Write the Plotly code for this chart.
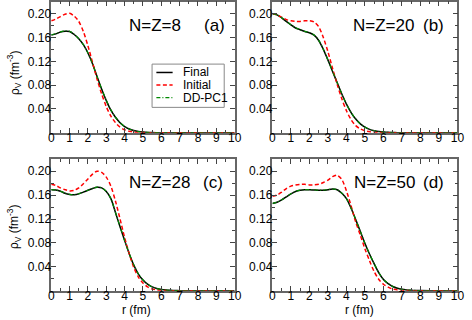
import plotly.graph_objects as go

# radial grid (fm)
R = [0.0, 0.25, 0.5, 0.75, 1.0, 1.25, 1.5, 1.75, 2.0, 2.25, 2.5, 2.75, 3.0, 3.25, 3.5, 3.75,
     4.0, 4.25, 4.5, 4.75, 5.0, 5.25, 5.5, 5.75, 6.0, 6.25, 6.5, 6.75, 7.0, 7.25, 7.5, 7.75,
     8.0, 9.0, 10.0]

# N=Z=8
A_FINAL = [0.164, 0.166, 0.169, 0.1705, 0.170, 0.165, 0.158, 0.148, 0.134, 0.116, 0.094, 0.073,
           0.054, 0.038, 0.026, 0.017, 0.0105, 0.0063, 0.0037, 0.0021, 0.0012, 0.0006, 0.0003,
           0.00015, 0.0001, 0, 0, 0, 0, 0, 0, 0, 0, 0, 0]
A_INIT = [0.188, 0.191, 0.195, 0.199, 0.2005, 0.196, 0.187, 0.170, 0.146, 0.118, 0.090, 0.065,
          0.044, 0.028, 0.017, 0.0095, 0.005, 0.0025, 0.0012, 0.0006, 0.0003, 0.0001, 0, 0, 0,
          0, 0, 0, 0, 0, 0, 0, 0, 0, 0]
A_DDPC1 = [0.1645, 0.1665, 0.1695, 0.171, 0.1705, 0.1655, 0.158, 0.148, 0.134, 0.116, 0.094,
           0.0735, 0.0545, 0.0385, 0.0262, 0.0172, 0.0106, 0.0064, 0.0038, 0.0021, 0.0012,
           0.0006, 0.0003, 0.00015, 0.0001, 0, 0, 0, 0, 0, 0, 0, 0, 0, 0]

# N=Z=20
B_FINAL = [0.200, 0.198, 0.193, 0.187, 0.181, 0.176, 0.173, 0.170, 0.168, 0.164, 0.155, 0.140,
           0.122, 0.103, 0.084, 0.065, 0.048, 0.034, 0.023, 0.015, 0.0095, 0.0058, 0.0035,
           0.002, 0.0012, 0.0007, 0.0004, 0.0002, 0.0001, 0, 0, 0, 0, 0, 0]
B_INIT = [0.200, 0.198, 0.194, 0.190, 0.188, 0.187, 0.187, 0.188, 0.188, 0.186, 0.178, 0.160,
          0.136, 0.108, 0.081, 0.057, 0.037, 0.022, 0.012, 0.0065, 0.0034, 0.0017, 0.0008,
          0.0004, 0.0002, 0, 0, 0, 0, 0, 0, 0, 0, 0, 0]
B_DDPC1 = [0.200, 0.198, 0.1932, 0.1872, 0.1812, 0.1762, 0.1732, 0.1702, 0.1682, 0.1642, 0.1552,
           0.1402, 0.1222, 0.1032, 0.0842, 0.0652, 0.0482, 0.0342, 0.0232, 0.0152, 0.0096,
           0.0058, 0.0035, 0.002, 0.0012, 0.0007, 0.0004, 0.0002, 0.0001, 0, 0, 0, 0, 0, 0]

# N=Z=28
C_FINAL = [0.169, 0.1685, 0.1665, 0.163, 0.161, 0.1605, 0.162, 0.165, 0.168, 0.171, 0.173,
           0.172, 0.166, 0.154, 0.131, 0.107, 0.084, 0.062, 0.043, 0.028, 0.018, 0.011, 0.0065,
           0.0038, 0.0022, 0.0012, 0.0007, 0.0004, 0.0002, 0, 0, 0, 0, 0, 0]
C_INIT = [0.178, 0.176, 0.172, 0.169, 0.167, 0.168, 0.172, 0.179, 0.187, 0.195, 0.200, 0.198,
          0.190, 0.175, 0.150, 0.120, 0.089, 0.062, 0.039, 0.023, 0.013, 0.0065, 0.003, 0.0015,
          0.0007, 0.0003, 0.0001, 0, 0, 0, 0, 0, 0, 0, 0]
C_DDPC1 = [0.1692, 0.1687, 0.1667, 0.1632, 0.1612, 0.1607, 0.1622, 0.1652, 0.1682, 0.1712,
           0.1732, 0.1722, 0.1662, 0.1542, 0.1312, 0.1072, 0.0842, 0.0622, 0.0432, 0.0282,
           0.0181, 0.0111, 0.0066, 0.0038, 0.0022, 0.0012, 0.0007, 0.0004, 0.0002, 0, 0, 0, 0,
           0, 0]

# N=Z=50
D_FINAL = [0.146, 0.148, 0.152, 0.157, 0.162, 0.166, 0.168, 0.169, 0.169, 0.1685, 0.168, 0.168,
           0.169, 0.170, 0.169, 0.163, 0.154, 0.138, 0.119, 0.099, 0.079, 0.061, 0.045, 0.030,
           0.019, 0.012, 0.0072, 0.0043, 0.0025, 0.0015, 0.0009, 0.0005, 0.0003, 0, 0]
D_INIT = [0.158, 0.160, 0.165, 0.171, 0.175, 0.177, 0.178, 0.178, 0.177, 0.177, 0.178, 0.181,
          0.185, 0.191, 0.193, 0.186, 0.167, 0.142, 0.115, 0.093, 0.070, 0.050, 0.032, 0.019,
          0.011, 0.006, 0.003, 0.0015, 0.0007, 0.0003, 0.0001, 0, 0, 0, 0]
D_DDPC1 = [0.1462, 0.1482, 0.1522, 0.1572, 0.1622, 0.1662, 0.1682, 0.1692, 0.1692, 0.1687,
           0.1682, 0.1682, 0.1692, 0.1702, 0.1692, 0.1632, 0.1542, 0.1382, 0.1192, 0.0992,
           0.0792, 0.0612, 0.0452, 0.0302, 0.0191, 0.0121, 0.0073, 0.0043, 0.0025, 0.0015,
           0.0009, 0.0005, 0.0003, 0, 0]

PANELS = [
    ("N=Z=8", "(a)", A_FINAL, A_INIT, A_DDPC1),
    ("N=Z=20", "(b)", B_FINAL, B_INIT, B_DDPC1),
    ("N=Z=28", "(c)", C_FINAL, C_INIT, C_DDPC1),
    ("N=Z=50", "(d)", D_FINAL, D_INIT, D_DDPC1),
]
SERIES_NAMES = ["Final", "Initial", "DD-PC1"]
X_TICKS = [0, 1, 2, 3, 4, 5, 6, 7, 8, 9, 10]
Y_TICKS = [0.04, 0.08, 0.12, 0.16, 0.20]
Y_TICK_TEXT = ["0.04", "0.08", "0.12", "0.16", "0.20"]

W, H = 472, 320
FONT = "Liberation Sans, Arial, Helvetica, sans-serif"

# panel geometry (paper fractions)
XDOM = [[49.3 / W, 236.7 / W], [275.3 / W, 464.3 / W], [49.3 / W, 236.7 / W], [275.3 / W, 464.3 / W]]
YDOM = [[1 - 132.2 / H, 1 - 0.75 / H], [1 - 132.2 / H, 1 - 0.75 / H],
        [1 - 290.7 / H, 1 - 158.7 / H], [1 - 290.7 / H, 1 - 158.7 / H]]

styles = [
    dict(color="#000000", width=1.5, dash="solid"),
    dict(color="#ff0000", width=1.5, dash="4px,2.5px"),
    dict(color="#008800", width=1.2, dash="4px,2px,1px,2px"),
]

fig = go.Figure()
for i, (lab, tag, fin, ini, dd) in enumerate(PANELS):
    xa = "x" if i == 0 else f"x{i+1}"
    ya = "y" if i == 0 else f"y{i+1}"
    for j, (name, vals) in enumerate(zip(SERIES_NAMES, [fin, ini, dd])):
        fig.add_trace(go.Scatter(
            x=R, y=vals, mode="lines", name=name, xaxis=xa, yaxis=ya,
            line=dict(shape="spline", smoothing=0.8, **styles[j]),
            showlegend=False, hoverinfo="skip",
        ))

axis_common = dict(
    showline=True, linecolor="#666666", linewidth=1.5, mirror="allticks",
    ticks="inside", ticklen=5, tickwidth=1, tickcolor="#444444",
    showgrid=False, zeroline=False,
    tickfont=dict(family=FONT, size=12, color="#000000"),
)
for i in range(4):
    k = "" if i == 0 else str(i + 1)
    fig.layout[f"xaxis{k}"] = dict(
        domain=XDOM[i], range=[0, 10], anchor=f"y{k}", tickvals=X_TICKS,
        ticklabelstandoff=-7,
        minor=dict(dtick=0.5, ticks="inside", ticklen=3, tickcolor="#444444"),
        **axis_common)
    fig.layout[f"yaxis{k}"] = dict(
        domain=YDOM[i], range=[0, 0.22], anchor=f"x{k}", tickvals=Y_TICKS,
        ticktext=Y_TICK_TEXT, ticklabelstandoff=-4,
        minor=dict(tickvals=[0.02, 0.06, 0.10, 0.14, 0.18, 0.22], ticks="inside",
                   ticklen=3, tickcolor="#444444"),
        **axis_common)

ann = []
label_pos = [
    (155.8, 25, 216, 25), (388.7, 25, 439.8, 25),
    (160, 181.7, 214.8, 181.7), (390, 181.7, 439.8, 181.7),
]
for (lab, tag, *_), (lx, ly, tx, ty) in zip(PANELS, label_pos):
    ann.append(dict(text=lab, x=lx / W, y=1 - ly / H, xref="paper", yref="paper",
                    showarrow=False, xanchor="center", yanchor="middle",
                    font=dict(family=FONT, size=17, color="#000000")))
    ann.append(dict(text=tag, x=tx / W, y=1 - ty / H, xref="paper", yref="paper",
                    showarrow=False, xanchor="center", yanchor="middle",
                    font=dict(family=FONT, size=17, color="#000000")))
for yc in (71.5, 226):
    ann.append(dict(text="ρ<sub>V</sub> (fm<sup>-3</sup>)", x=12 / W, y=1 - yc / H,
                    xref="paper", yref="paper", showarrow=False, textangle=-90,
                    xanchor="center", yanchor="middle",
                    font=dict(family=FONT, size=12, color="#000000")))
for xc in (136.7, 364.5):
    ann.append(dict(text="r (fm)", x=xc / W, y=1 - 310 / H, xref="paper", yref="paper",
                    showarrow=False, xanchor="center", yanchor="middle",
                    font=dict(family=FONT, size=12, color="#000000")))

# legend box (inside panel a), drawn as a framed key
shapes = [dict(type="rect", xref="paper", yref="paper",
               x0=152.3 / W, x1=226 / W, y0=1 - 106.7 / H, y1=1 - 63.3 / H,
               line=dict(color="#888888", width=1), fillcolor="white", layer="above")]
for j, (name, yc) in enumerate(zip(SERIES_NAMES, (71.7, 84.3, 97.0))):
    st = styles[j]
    shapes.append(dict(type="line", xref="paper", yref="paper",
                       x0=156.7 / W, x1=173.3 / W, y0=1 - yc / H, y1=1 - yc / H,
                       line=dict(color=st["color"], width=st["width"], dash=st["dash"]),
                       layer="above"))
    ann.append(dict(text=name, x=182.3 / W, y=1 - yc / H, xref="paper", yref="paper",
                    showarrow=False, xanchor="left", yanchor="middle",
                    font=dict(family=FONT, size=12, color="#000000")))

fig.update_layout(
    width=W, height=H, margin=dict(l=0, r=0, t=0, b=0),
    paper_bgcolor="white", plot_bgcolor="white",
    annotations=ann, shapes=shapes,
    showlegend=False, hovermode=False,
)

fig.write_html("out.html", config={"displayModeBar": False},
               post_script="document.body.style.margin='0';document.body.style.padding='0';")
